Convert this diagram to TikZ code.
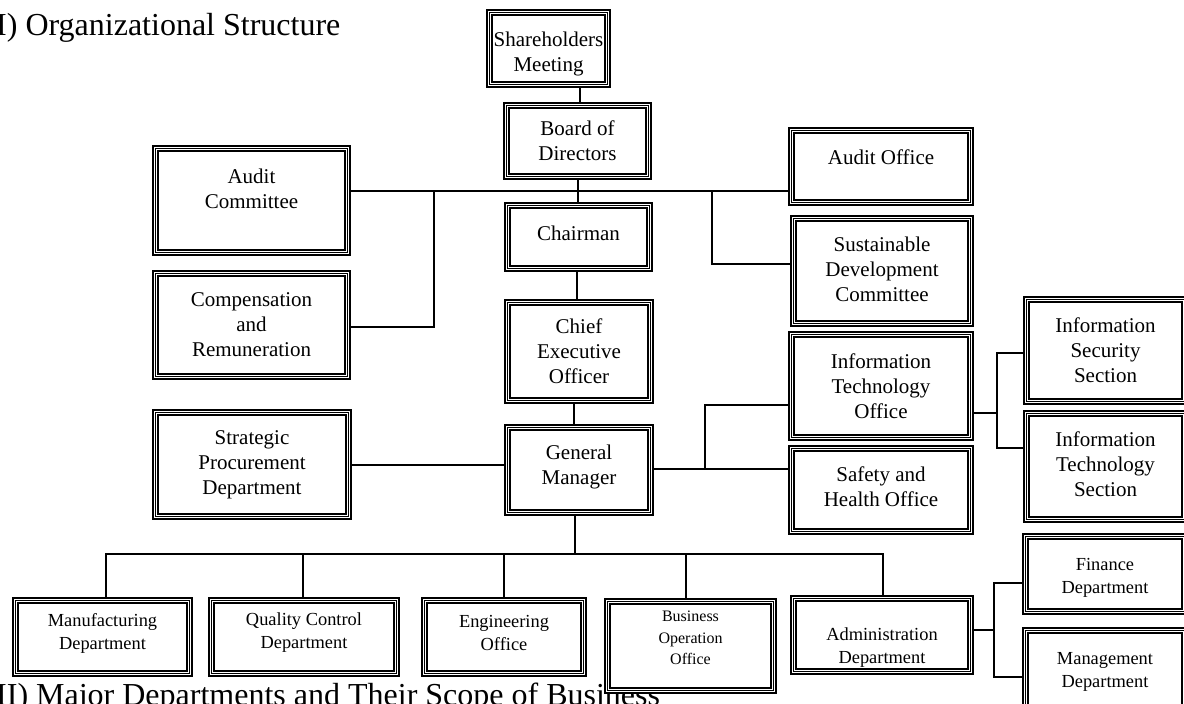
\documentclass[tikz,border=0pt]{standalone}
\usepackage{fontspec}
\setmainfont{Liberation Serif}
\tikzset{
  conn/.style={line width=1.2pt},
  fthick/.style={line width=2pt},
  fthin/.style={line width=1pt},
  bnode/.style={draw=none, inner sep=0pt, outer sep=0pt},
  btext/.style={align=center, inner sep=0pt},
  heading/.style={anchor=base west, inner sep=0pt, font=\fontsize{32}{36}\selectfont}
}
\newcommand\fa{\fontsize{21}{25}\selectfont}
\newcommand\fb{\fontsize{18.4}{23}\selectfont}
\newcommand\fc{\fontsize{16}{21.5}\selectfont}
% name, x0, y0, x1, y1 (outer edges, y downward), font, text shift (down), text
\newcommand\obox[8]{%
  \node[bnode, minimum width={#4-#2}, minimum height={#5-#3}] (#1) at ({(#2+#4)/2},{-(#3+#5)/2}) {};
  \fill[white] (#1.north west) rectangle (#1.south east);
  \draw[fthick] ([shift={(1pt,-1pt)}]#1.north west) rectangle ([shift={(-1pt,1pt)}]#1.south east);
  \draw[fthin] ([shift={(3.5pt,-3.5pt)}]#1.north west) rectangle ([shift={(-3.5pt,3.5pt)}]#1.south east);
  \draw[fthick] ([shift={(6pt,-6pt)}]#1.north west) rectangle ([shift={(-6pt,6pt)}]#1.south east);
  \node[btext, font=#6] (#1-t) at ([yshift={-(#7)*1pt}]#1.center) {#8};
}
\begin{document}
\begin{tikzpicture}[x=1pt,y=1pt]
\useasboundingbox (0,0) rectangle (1184,-704);
\fill[white] (0,0) rectangle (1184,-704);

\node[heading] (title) at (-4,-35) {I) Organizational Structure};
\node[heading] (sec2) at (-4,-705) {II) Major Departments and Their Scope of Business};

\obox{sh}{486}{9}{611}{88}{\fa}{5}{Shareholders\\Meeting}
\obox{bd}{503}{102}{652}{180}{\fa}{0}{Board of\\Directors}
\obox{ch}{504}{202}{653}{272}{\fa}{-4}{Chairman}
\obox{ceo}{504}{299}{654}{404}{\fa}{0}{Chief\\Executive\\Officer}
\obox{gm}{504}{424}{654}{516}{\fa}{-3}{General\\Manager}
\obox{ac}{152}{145}{351}{256}{\fa}{-12}{Audit\\Committee}
\obox{cr}{152}{270}{351}{380}{\fa}{0}{Compensation\\and\\Remuneration}
\obox{sp}{152}{409}{352}{520}{\fa}{0}{Strategic\\Procurement\\Department}
\obox{ao}{788}{127}{974}{206}{\fa}{-9}{Audit Office}
\obox{sd}{790}{215}{974}{327}{\fa}{-2}{Sustainable\\Development\\Committee}
\obox{ito}{788}{331}{974}{441}{\fa}{0}{Information\\Technology\\Office}
\obox{sho}{788}{445}{974}{535}{\fa}{-3}{Safety and\\Health Office}
\obox{iss}{1023}{296}{1188}{405}{\fa}{0}{Information\\Security\\Section}
\obox{its}{1023}{410}{1188}{523}{\fa}{-2}{Information\\Technology\\Section}
\obox{fin}{1022}{533}{1188}{615}{\fb}{4}{Finance\\Department}
\obox{mgt}{1022}{627}{1188}{712}{\fb}{2}{Management\\Department}
\obox{mf}{12}{597}{193}{677}{\fb}{-4}{Manufacturing\\Department}
\obox{qc}{208}{597}{400}{677}{\fb}{-4}{Quality Control\\Department}
\obox{eng}{421}{597}{587}{677}{\fb}{-4}{Engineering\\Office}
\obox{bo}{604}{598}{777}{694}{\fc}{-8}{Business\\Operation\\Office}
\obox{adm}{790}{595}{974}{675}{\fb}{13}{Administration\\Department}

% guide coordinates
\coordinate (xA) at (580,0);
\coordinate (xB) at (578,0);
\coordinate (xC) at (434,0);
\coordinate (xD) at (712,0);
\coordinate (xE) at (577,0);
\coordinate (xF) at (574,0);
\coordinate (xG) at (705,0);
\coordinate (xH) at (997,0);
\coordinate (xI) at (575,0);
\coordinate (xJ) at (994,0);
\coordinate (b1) at (106,0);
\coordinate (b2) at (303,0);
\coordinate (b3) at (504,0);
\coordinate (b4) at (686,0);
\coordinate (b5) at (883,0);
\coordinate (yA) at (0,-191);
\coordinate (yB) at (0,-327);
\coordinate (yC) at (0,-264);
\coordinate (yD) at (0,-465);
\coordinate (yE) at (0,-469);
\coordinate (yF) at (0,-405);
\coordinate (yG) at (0,-413);
\coordinate (yH) at (0,-353);
\coordinate (yI) at (0,-448);
\coordinate (yJ) at (0,-554);
\coordinate (yK) at (0,-630);
\coordinate (yL) at (0,-583);
\coordinate (yM) at (0,-677);

\draw[conn] (sh.south -| xA) -- (bd.north -| xA);
\draw[conn] (bd.south -| xB) -- (ch.north -| xB);
\draw[conn] (ac.east |- yA) -- (ao.west |- yA);
\draw[conn] (xC |- yA) -- (xC |- yB) -- (cr.east |- yB);
\draw[conn] (xD |- yA) -- (xD |- yC) -- (sd.west |- yC);
\draw[conn] (ch.south -| xE) -- (ceo.north -| xE);
\draw[conn] (ceo.south -| xF) -- (gm.north -| xF);
\draw[conn] (sp.east |- yD) -- (gm.west |- yD);
\draw[conn] (gm.east |- yE) -- (sho.west |- yE);
\draw[conn] (xG |- yE) -- (xG |- yF) -- (ito.west |- yF);
\draw[conn] (ito.east |- yG) -- (xH |- yG);
\draw[conn] (iss.west |- yH) -- (xH |- yH) -- (xH |- yI) -- (its.west |- yI);
\draw[conn] (gm.south -| xI) -- (xI |- yJ);
\draw[conn] (b1 |- mf.north) -- (b1 |- yJ) -- (b5 |- yJ) -- (b5 |- adm.north);
\draw[conn] (b2 |- yJ) -- (b2 |- qc.north);
\draw[conn] (b3 |- yJ) -- (b3 |- eng.north);
\draw[conn] (b4 |- yJ) -- (b4 |- bo.north);
\draw[conn] (adm.east |- yK) -- (xJ |- yK);
\draw[conn] (fin.west |- yL) -- (xJ |- yL) -- (xJ |- yM) -- (mgt.west |- yM);
\end{tikzpicture}
\end{document}
